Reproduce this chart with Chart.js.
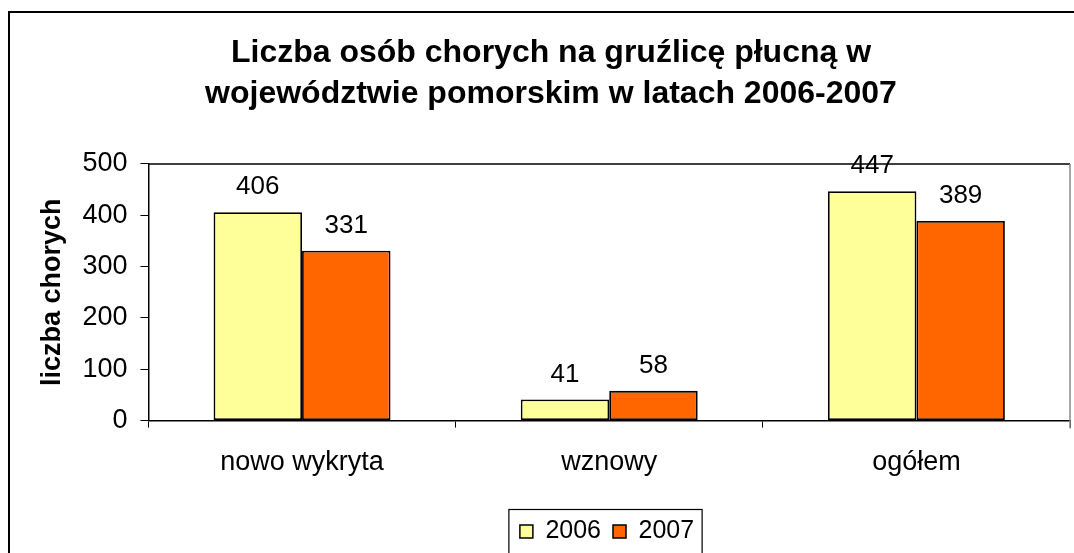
<!DOCTYPE html>
<html>
<head>
<meta charset="utf-8">
<script src="https://cdn.jsdelivr.net/npm/chart.js@4/dist/chart.umd.min.js"></script>
<style>
  html, body { margin: 0; padding: 0; background: #fff; overflow: hidden; width: 1074px; height: 553px; }
  #frame { position: absolute; left: 8px; top: 11px; width: 1080px; height: 580px; border: 2px solid #000; box-sizing: content-box; }
  #wrap { position: absolute; left: 0; top: 0; width: 1064px; height: 560px; }
</style>
</head>
<body>
<div id="frame"><div id="wrap"><canvas id="c" width="1064" height="560"></canvas></div></div>
<script>
const titleLines = ['Liczba osób chorych na gruźlicę płucną w', 'województwie pomorskim w latach 2006-2007'];
const categories = ['nowo wykryta', 'wznowy', 'ogółem'];
const seriesNames = ['2006', '2007'];
const values2006 = [406, 41, 447];
const values2007 = [331, 58, 389];
const yTicks = [0, 100, 200, 300, 400, 500];
const yAxisTitle = 'liczba chorych';

const FONT = "'Liberation Sans', Arial, sans-serif";

const frameLines = {
  id: 'frameLines',
  afterLayout(chart) {
    const lg = chart.legend;
    if (lg) { lg.left += 56; lg.right += 56; }
  },
  afterDraw(chart) {
    const { ctx, chartArea: a } = chart;
    ctx.save();
    ctx.lineWidth = 1.5;
    ctx.strokeStyle = '#000';
    ctx.beginPath();
    ctx.moveTo(a.left, a.top); ctx.lineTo(a.right, a.top);
    ctx.stroke();
    ctx.strokeStyle = '#888';
    ctx.beginPath();
    ctx.moveTo(a.right, a.top); ctx.lineTo(a.right, a.bottom + 8);
    ctx.stroke();
    // data labels
    ctx.fillStyle = '#000';
    ctx.font = '26px ' + FONT;
    ctx.textAlign = 'center';
    ctx.textBaseline = 'alphabetic';
    chart.data.datasets.forEach((ds, di) => {
      const meta = chart.getDatasetMeta(di);
      meta.data.forEach((bar, i) => {
        ctx.fillText(String(ds.data[i]), bar.x, bar.y - 18);
      });
    });
    // legend box
    const lg = chart.legend;
    if (lg && lg.legendHitBoxes && lg.legendHitBoxes.length) {
      const hb = lg.legendHitBoxes;
      const l = hb[0].left - 11;
      const last = hb[hb.length - 1];
      const r = last.left + last.width + 8;
      const t = hb[0].top + hb[0].height / 2 - 22;
      ctx.strokeStyle = '#000';
      ctx.lineWidth = 1.2;
      ctx.strokeRect(l, t, r - l, 200);
    }
    ctx.restore();
  }
};

new Chart(document.getElementById('c'), {
  type: 'bar',
  data: {
    labels: categories,
    datasets: [
      { label: seriesNames[0], data: values2006, backgroundColor: '#FFFF99', borderColor: '#000', borderWidth: 1.8, borderSkipped: false },
      { label: seriesNames[1], data: values2007, backgroundColor: '#FF6600', borderColor: '#000', borderWidth: 1.8, borderSkipped: false }
    ]
  },
  options: {
    responsive: false,
    animation: false,
    events: [],
    layout: { padding: { left: 22, right: 4, top: 0, bottom: 19 } },
    datasets: { bar: { barPercentage: 1, categoryPercentage: 0.576 } },
    plugins: {
      tooltip: { enabled: false },
      title: {
        display: true,
        text: titleLines,
        color: '#000',
        font: { family: FONT, size: 32, weight: 'bold', lineHeight: 1.28 },
        padding: { top: 20, bottom: 49 }
      },
      legend: {
        position: 'bottom',
        labels: {
          color: '#000',
          font: { family: FONT, size: 25 },
          boxWidth: 13,
          boxHeight: 13,
          padding: 12,
          generateLabels(chart) {
            return chart.data.datasets.map((ds, i) => ({
              text: ds.label, fillStyle: ds.backgroundColor, strokeStyle: '#000', lineWidth: 1.5, datasetIndex: i, hidden: false
            }));
          }
        }
      }
    },
    scales: {
      x: {
        grid: { display: true, drawOnChartArea: false, offset: true, color: '#000', tickLength: 7, tickColor: '#000' },
        border: { display: true, color: '#000', width: 1.5 },
        ticks: { color: '#000', font: { family: FONT, size: 27 }, padding: 19, maxRotation: 0 },
        afterFit(scale) { scale.height += 9; }
      },
      y: {
        min: 0, max: 500,
        afterBuildTicks(scale) { scale.ticks = yTicks.map(v => ({ value: v })); },
        grid: { display: true, drawOnChartArea: false, color: '#000', tickLength: 8, tickColor: '#000' },
        border: { display: true, color: '#000', width: 1.5 },
        ticks: { color: '#000', font: { family: FONT, size: 27 }, padding: 13 },
        title: { display: true, text: yAxisTitle, color: '#000', font: { family: FONT, size: 27, weight: 'bold' }, padding: { top: 4, bottom: 1 } }
      }
    }
  },
  plugins: [frameLines]
});
</script>
</body>
</html>
